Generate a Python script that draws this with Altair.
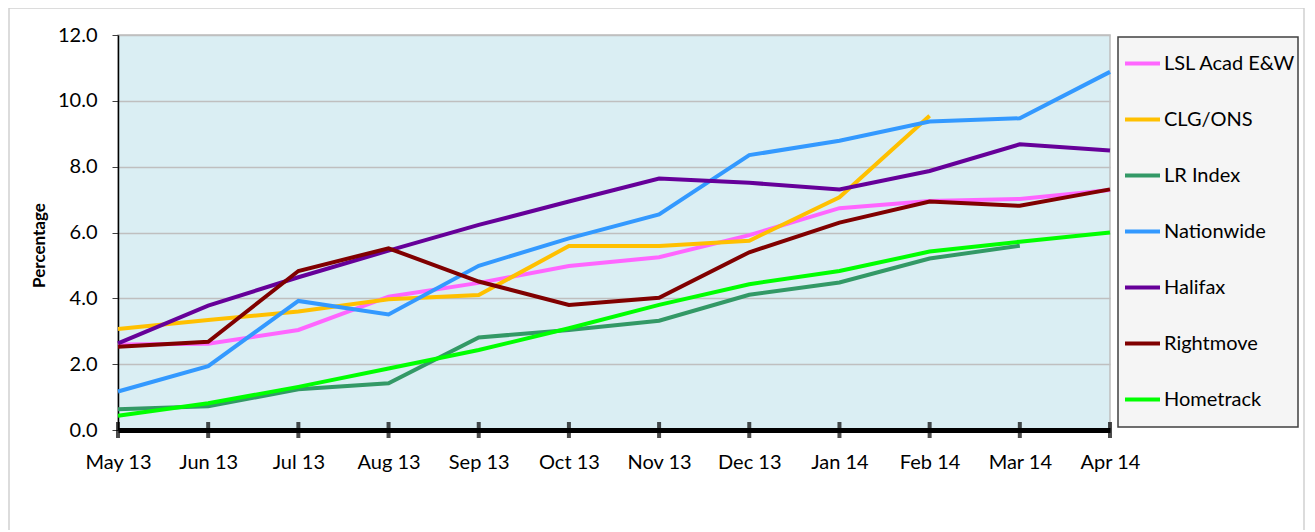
import altair as alt
import pandas as pd

months = ["May 13", "Jun 13", "Jul 13", "Aug 13", "Sep 13", "Oct 13",
          "Nov 13", "Dec 13", "Jan 14", "Feb 14", "Mar 14", "Apr 14"]

series = ["LSL Acad E&W", "CLG/ONS", "LR Index", "Nationwide", "Halifax", "Rightmove", "Hometrack"]
colors = ["#FF66FF", "#FFC000", "#339966", "#3399FF", "#660099", "#800000", "#00FF00"]

lsl = [2.60, 2.62, 3.04, 4.05, 4.47, 4.98, 5.25, 5.92, 6.74, 6.96, 7.02, 7.29]
clg = [3.07, 3.34, 3.60, 3.97, 4.10, 5.59, 5.59, 5.75, 7.07, 9.55, None, None]
lr = [0.63, 0.72, 1.24, 1.42, 2.81, 3.04, 3.32, 4.11, 4.48, 5.21, 5.60, None]
nationwide = [1.17, 1.94, 3.92, 3.51, 4.99, 5.82, 6.55, 8.35, 8.79, 9.37, 9.47, 10.88]
halifax = [2.63, 3.78, 4.64, 5.45, 6.23, 6.94, 7.64, 7.51, 7.31, 7.87, 8.68, 8.49]
rightmove = [2.53, 2.68, 4.83, 5.52, 4.51, 3.80, 4.02, 5.40, 6.30, 6.94, 6.81, 7.31]
hometrack = [0.43, 0.81, 1.31, 1.87, 2.43, 3.09, 3.80, 4.43, 4.83, 5.42, 5.72, 6.00]

values = [lsl, clg, lr, nationwide, halifax, rightmove, hometrack]

rows = []
for name, vals in zip(series, values):
    for i, (m, v) in enumerate(zip(months, vals)):
        if v is not None:
            rows.append({"series": name, "month": m, "idx": i, "value": v})
df = pd.DataFrame(rows)
mdf = pd.DataFrame({"month": months})

FONT = "Lato"
W, H = 992, 395

xenc = alt.X("month:O", sort=months, scale=alt.Scale(type="point", padding=0),
             axis=alt.Axis(title=None, labelAngle=0, labelFontSize=20, labelColor="black",
                           labelFont=FONT, labelPadding=22, ticks=False,
                           domainColor="black", domainWidth=5, grid=False))

lines = alt.Chart(df).mark_line(strokeWidth=4, clip=False).encode(
    x=xenc,
    y=alt.Y("value:Q", scale=alt.Scale(domain=[0, 12], nice=False),
            axis=alt.Axis(title="Percentage", values=[0, 2, 4, 6, 8, 10, 12], format=".1f",
                          labelFontSize=20, labelColor="black", labelFont=FONT,
                          labelPadding=15, tickSize=6, tickColor="#404040",
                          domainColor="black", domainWidth=1.5,
                          gridColor="#BFBFBF", gridWidth=1.5,
                          titleFont=FONT, titleFontSize=17, titleFontWeight="bold",
                          titleColor="black", titleX=-70, titleY=210)),
    color=alt.Color("series:N", sort=series,
                    scale=alt.Scale(domain=series, range=colors),
                    legend=alt.Legend(title=None, orient="none", legendX=1000, legendY=4,
                                      padding=5, symbolType="stroke", symbolSize=1225,
                                      symbolStrokeWidth=4, labelFontSize=20,
                                      labelFont=FONT, labelColor="black", labelOffset=2,
                                      rowPadding=26)),
    order=alt.Order("idx:Q"),
)

ticks = alt.Chart(mdf).mark_tick(color="black", thickness=4, size=16, orient="vertical").encode(
    x=alt.X("month:O", sort=months),
    y=alt.datum(0),
)

frame_df = pd.DataFrame({"k": [0]})
legend_box = alt.Chart(frame_df).mark_rect(fill="#F5F5F5", stroke="#404040", strokeWidth=1.5).encode(
    x=alt.value(1000), x2=alt.value(1180), y=alt.value(2), y2=alt.value(392))
frame_left = alt.Chart(frame_df).mark_rule(color="#D0D0D0", strokeWidth=1.5).encode(
    x=alt.value(-109), y=alt.value(-27), y2=alt.value(520))
frame_top = alt.Chart(frame_df).mark_rule(color="#D0D0D0", strokeWidth=1.5).encode(
    x=alt.value(-109), x2=alt.value(1186), y=alt.value(-27))
frame_right = alt.Chart(frame_df).mark_rule(color="#D0D0D0", strokeWidth=1.5).encode(
    x=alt.value(1186), y=alt.value(-27), y2=alt.value(520))

chart = alt.layer(frame_left, frame_top, frame_right, legend_box, lines, ticks).properties(
    width=W, height=H,
    autosize=alt.AutoSizeParams(type="none"),
    padding={"left": 110, "top": 27, "right": 195, "bottom": 100},
    background="white",
).configure_view(fill="#DAEEF3", stroke="#BFBFBF", strokeWidth=1.5)

chart.save("out.html", embed_options={"renderer": "svg", "actions": False})
